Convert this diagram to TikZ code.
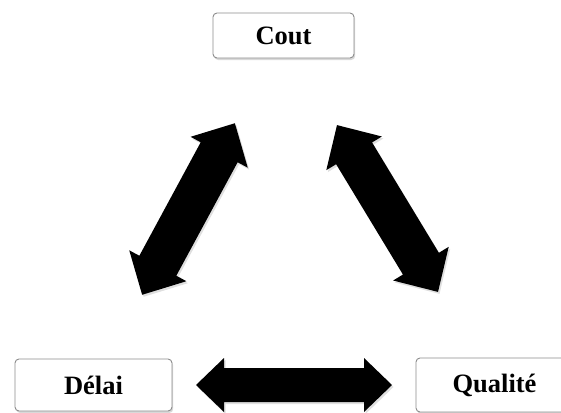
\documentclass[tikz,border=0pt]{standalone}
\usepackage{fontspec}
\setmainfont{Liberation Serif}
\usetikzlibrary{shadows}

\definecolor{boxline}{HTML}{8C8C8C}

\tikzset{
  labelbox/.style={
    draw=boxline, line width=0.9pt, fill=white, rounded corners=4pt,
    inner sep=0pt, font=\fontsize{26.5}{30}\selectfont\bfseries,
    drop shadow={opacity=0.3, shadow xshift=1.2pt, shadow yshift=-2pt}
  },
  arrowfill/.style={
    fill=black, draw=none,
    drop shadow={opacity=0.25, shadow xshift=1.5pt, shadow yshift=-2pt}
  }
}

% #1 name, #2 centre, #3 angle, #4 half length, #5 head half width,
% #6 shaft half width, #7 head length
\newcommand\fatarrow[7]{%
  \begin{scope}[shift={#2}, rotate=#3]
    \coordinate (#1) at (0,0);
    \fill[arrowfill]
      (-#4,0) -- (-#4+#7,-#5) -- (-#4+#7,-#6) -- (#4-#7,-#6) -- (#4-#7,-#5)
      -- (#4,0) -- (#4-#7,#5) -- (#4-#7,#6) -- (-#4+#7,#6) -- (-#4+#7,#5)
      -- cycle;
  \end{scope}}

\begin{document}
\begin{tikzpicture}[x=1pt, y=-1pt]
  \path[use as bounding box, clip] (0,0) rectangle (561,412);

  % the three labels
  \node[labelbox, minimum width=141pt, minimum height=45pt] (cout)    at (283.5,35.5) {Cout};
  \node[labelbox, minimum width=157pt, minimum height=52pt] (delai)   at (93.5,385)   {Délai};
  \node[labelbox, minimum width=157pt, minimum height=54pt] (qualite) at (494.5,385)  {Qualité};

  % double arrows linking them
  \fatarrow{arrL}{(188.5,209)}{61.6}{97.5}{32.5}{21}{33}
  \fatarrow{arrR}{(387.5,208.5)}{-58.8}{97.5}{32.5}{21}{33}
  \fatarrow{arrB}{(294,385)}{0}{98}{27}{17}{28}
\end{tikzpicture}
\end{document}
